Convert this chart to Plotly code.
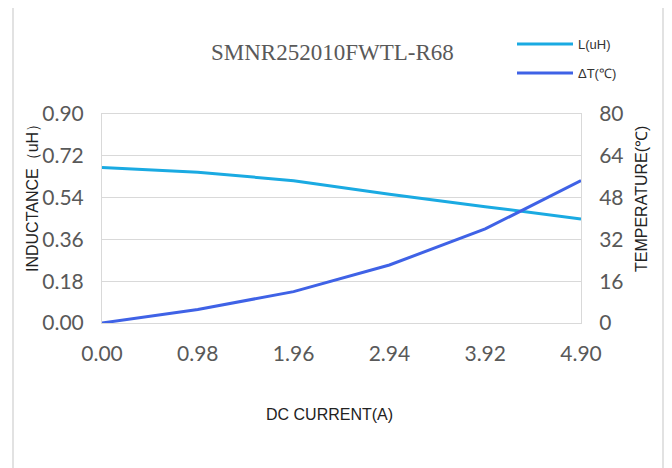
import plotly.graph_objects as go

current = [0.00, 0.98, 1.96, 2.94, 3.92, 4.90]
inductance = [0.670, 0.649, 0.613, 0.554, 0.501, 0.448]
temperature = [0.0, 5.2, 12.0, 22.2, 36.0, 54.5]
x_ticks = [0.00, 0.98, 1.96, 2.94, 3.92, 4.90]
y1_ticks = [0.00, 0.18, 0.36, 0.54, 0.72, 0.90]
y2_ticks = [0, 16, 32, 48, 64, 80]

c_L = "#1AAAE2"
c_T = "#3F62E6"
tick_font = dict(family="Lato, Open Sans, sans-serif", size=21, color="#595959")
grid = "#D9D9D9"
lab_font = dict(family="Liberation Sans, Arial", size=16, color="#222222")

fig = go.Figure()
fig.add_trace(go.Scatter(x=current, y=inductance, mode="lines", name="L(uH)",
                         line=dict(color=c_L, width=3), yaxis="y"))
fig.add_trace(go.Scatter(x=current, y=temperature, mode="lines", name="ΔT(℃)",
                         line=dict(color=c_T, width=3), yaxis="y2"))

# page offset of the figure inside the browser body
OFF = 8
W, H = 672 - OFF, 468 - OFF
# plot area in page pixel coordinates
L, R, T, B = 102, 581, 114, 323
pw, ph = R - L, B - T


def px(x):
    return (x - L) / pw


def py(y):
    return (B - y) / ph


shapes = [
    dict(type="rect", xref="paper", yref="paper", x0=px(13), x1=px(663), y0=py(480), y1=py(7),
         line=dict(color="#D9D9D9", width=1.5), layer="below"),
    dict(type="line", xref="paper", yref="paper", x0=px(0), x1=px(672), y0=py(1), y1=py(1),
         line=dict(color="#E0E0E0", width=1.5), layer="below"),
    dict(type="line", xref="paper", yref="paper", x0=px(517), x1=px(573), y0=py(44), y1=py(44),
         line=dict(color=c_L, width=3)),
    dict(type="line", xref="paper", yref="paper", x0=px(517), x1=px(573), y0=py(73), y1=py(73),
         line=dict(color=c_T, width=3)),
]


def ann(text, x, y, font, xanchor="center", angle=0):
    return dict(text=text, xref="paper", yref="paper", x=px(x), y=py(y),
                xanchor=xanchor, yanchor="middle", textangle=angle,
                showarrow=False, font=font)


annotations = [
    ann("SMNR252010FWTL-R68", 332, 53,
        dict(family="Liberation Serif, serif", size=23, color="#595959")),
    ann("L(uH)", 576, 44, dict(family="Liberation Sans, Arial", size=13, color="#333333"),
        xanchor="left"),
    ann("ΔT(℃)", 576, 73, dict(family="Liberation Sans, Arial", size=13, color="#333333"),
        xanchor="left"),
    ann("INDUCTANCE（uH）", 32, 194, lab_font, angle=-90),
    ann("TEMPERATURE(℃)", 641, 199, lab_font, angle=-90),
    ann("DC CURRENT(A)", 329, 414, lab_font),
]

fig.update_layout(
    width=W, height=H,
    margin=dict(l=L - OFF, r=W - (R - OFF), t=T - OFF, b=H - (B - OFF)),
    paper_bgcolor="white", plot_bgcolor="white",
    showlegend=False,
    shapes=shapes, annotations=annotations,
    xaxis=dict(range=[0, 4.9], tickvals=x_ticks, ticktext=[f"{v:.2f}" for v in x_ticks],
               tickfont=tick_font, showgrid=False, zeroline=False,
               showline=True, linecolor=grid, mirror=True, ticks="", ticklabelstandoff=12),
    yaxis=dict(range=[0, 0.9], tickvals=y1_ticks, ticktext=[f"{v:.2f}" for v in y1_ticks],
               tickfont=tick_font, showgrid=True, gridcolor=grid, zeroline=False,
               showline=True, linecolor=grid, ticks="", ticklabelstandoff=13),
    yaxis2=dict(range=[0, 80], tickvals=y2_ticks, overlaying="y", side="right",
                tickfont=tick_font, showgrid=False, zeroline=False,
                showline=True, linecolor=grid, ticks="", ticklabelstandoff=13),
)

fig.write_html("out.html")
